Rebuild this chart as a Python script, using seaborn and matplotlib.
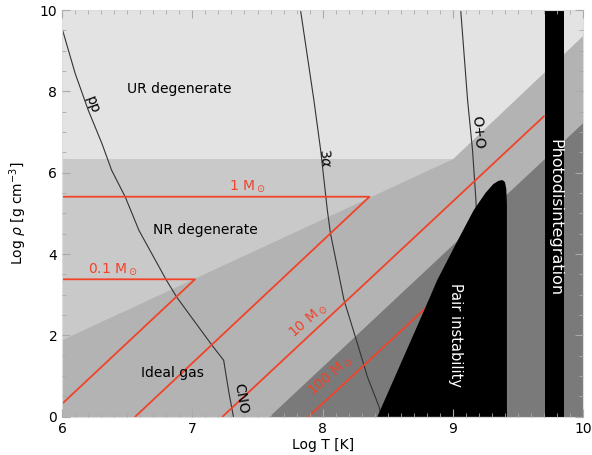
import numpy as np
import matplotlib
matplotlib.use("Agg")
import matplotlib.pyplot as plt
import seaborn as sns
from matplotlib.ticker import MultipleLocator

sns.set_style("ticks")
plt.rcParams["font.family"] = ["DejaVu Sans"]
plt.rcParams["text.color"] = "black"
plt.rcParams["axes.labelcolor"] = "black"
plt.rcParams["xtick.labelcolor"] = "black"
plt.rcParams["ytick.labelcolor"] = "black"

# Region boundaries in (log T, log rho)
ur_T = [6.0, 9.0, 10.0]
ur_rho = [6.35, 6.35, 9.38]
ideal_T = [6.0, 9.0, 10.0]
ideal_rho = [1.9, 6.35, 9.38]
rad_T = [7.585, 10.0]
rad_rho = [0.0, 7.24]
pair_T = [8.42, 8.78, 8.88, 9.01, 9.16, 9.25, 9.31, 9.35, 9.38, 9.40, 9.41, 9.415, 9.415]
pair_rho = [0.0, 2.62, 3.36, 4.17, 5.08, 5.5, 5.72, 5.8, 5.82, 5.77, 5.6, 5.2, 0.0]
photo_T = [9.71, 9.85]

# Evolutionary tracks (stellar centres)
track_01_T = [6.0, 7.02, 6.0]
track_01_rho = [3.38, 3.38, 0.32]
track_1_T = [6.0, 8.36, 6.56]
track_1_rho = [5.41, 5.41, 0.0]
track_10_T = [7.23, 9.70]
track_10_rho = [0.0, 7.39]
track_100_T = [7.89, 8.79]
track_100_rho = [0.0, 2.67]

# Burning ignition curves
pp_T = [6.0, 6.1, 6.2, 6.305, 6.38, 6.485, 6.59, 6.8, 6.88, 7.15, 7.24]
pp_rho = [9.54, 8.44, 7.54, 6.72, 6.06, 5.4, 4.58, 3.36, 2.94, 1.76, 1.39]
cno_T = [7.24, 7.28, 7.315]
cno_rho = [1.39, 0.6, 0.0]
he_T = [7.83, 7.933, 7.985, 8.036, 8.06, 8.164, 8.267, 8.344, 8.433, 8.45]
he_rho = [10.0, 7.78, 6.55, 5.08, 4.51, 2.87, 1.80, 0.98, 0.25, 0.0]
oo_T = [9.06, 9.113, 9.151, 9.177, 9.18]
oo_rho = [10.0, 7.78, 6.55, 5.32, 5.1]

red = "#f0432a"

fig = plt.figure(figsize=(5.92, 4.55), dpi=100)
ax = fig.add_axes([0.105, 0.084, 0.88, 0.894])
ax.set_facecolor("#e3e3e3")
ax.set_axisbelow(False)

T = np.linspace(6, 10, 801)
ax.fill_between(T, 0, np.interp(T, ur_T, ur_rho), color="#c9c9c9", lw=0)
ax.fill_between(T, 0, np.interp(T, ideal_T, ideal_rho), color="#b3b3b3", lw=0)
ax.fill_between(T, 0, np.interp(T, rad_T, rad_rho), color="#7a7a7a", lw=0)

# burning lines
for xs, ys in [(pp_T, pp_rho), (cno_T, cno_rho), (he_T, he_rho), (oo_T, oo_rho)]:
    sns.lineplot(x=xs, y=ys, sort=False, estimator=None, color="#333333", lw=0.8, ax=ax)

# tracks
for xs, ys in [(track_01_T, track_01_rho), (track_1_T, track_1_rho),
               (track_10_T, track_10_rho), (track_100_T, track_100_rho)]:
    sns.lineplot(x=xs, y=ys, sort=False, estimator=None, color=red, lw=1.3, ax=ax)

# unstable regions
ax.fill(pair_T, pair_rho, color="black", lw=0, zorder=2)
ax.axvspan(photo_T[0], photo_T[1], color="black", lw=0, zorder=2)

# labels
ax.text(6.9, 8.07, "UR degenerate", fontsize=10, ha="center", va="center")
ax.text(7.1, 4.58, "NR degenerate", fontsize=10, ha="center", va="center")
ax.text(6.85, 1.07, "Ideal gas", fontsize=10, ha="center", va="center")
ax.text(9.02, 2.0, "Pair instability", fontsize=10.5, color="white",
        rotation=-90, ha="center", va="center", zorder=6)
ax.text(9.78, 4.9, "Photodisintegration", fontsize=11.5, color="white",
        rotation=-90, ha="center", va="center", zorder=6)

ax.text(7.42, 5.66, r"1 M$_\odot$", fontsize=10, color=red, ha="center", va="center")
ax.text(6.39, 3.64, r"0.1 M$_\odot$", fontsize=10, color=red, ha="center", va="center")
ax.text(7.89, 2.38, r"10 M$_\odot$", fontsize=10, color=red, rotation=41,
        ha="center", va="center")
ax.text(8.06, 1.02, r"100 M$_\odot$", fontsize=10, color=red, rotation=41,
        ha="center", va="center")

ax.text(6.23, 7.66, "pp", fontsize=10, rotation=-70, ha="center", va="center")
ax.text(8.02, 6.35, r"3$\alpha$", fontsize=10, rotation=-84, ha="center", va="center")
ax.text(9.19, 7.0, "O+O", fontsize=10, rotation=-85, ha="center", va="center")
ax.text(7.37, 0.45, "CNO", fontsize=10, rotation=-80, ha="center", va="center")

ax.set_xlim(6, 10)
ax.set_ylim(0, 10)
ax.set_xlabel("Log T [K]", fontsize=10, labelpad=2)
ax.set_ylabel(r"Log $\rho$ [g cm$^{-3}$]", fontsize=10, labelpad=8)
ax.xaxis.set_major_locator(MultipleLocator(1))
ax.xaxis.set_minor_locator(MultipleLocator(0.1))
ax.yaxis.set_major_locator(MultipleLocator(2))
ax.yaxis.set_minor_locator(MultipleLocator(0.5))
ax.tick_params(which="both", direction="in", top=True, right=True,
               color="#aaaaaa", labelsize=10)
ax.tick_params(which="major", length=6)
ax.tick_params(which="minor", length=3)
for s in ax.spines.values():
    s.set_color("#dddddd")

fig.savefig("out.png", dpi=100)
